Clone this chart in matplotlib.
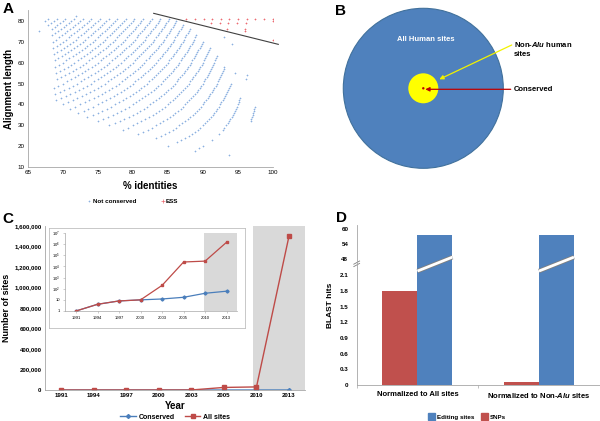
import numpy as np
import matplotlib
matplotlib.use('Agg')
import matplotlib.pyplot as plt
from matplotlib.patches import Circle, Patch
from matplotlib.ticker import FuncFormatter, NullLocator

plt.rcParams['font.family'] = ['Liberation Sans', 'DejaVu Sans']
plt.rcParams['mathtext.fontset'] = 'custom'
plt.rcParams['mathtext.rm'] = 'Liberation Sans'
plt.rcParams['mathtext.it'] = 'Liberation Sans:italic:bold'

# ---- panel A: BLAST hits, one arc per mismatch count ----
arc_mismatch = list(range(1, 27))
arc_len_lo = [32, 28, 22, 24, 26, 28, 30, 32, 34, 36, 38, 40, 42,
              45, 48, 52, 55, 58, 61, 64, 67, 70, 73, 76, 78, 80]
arc_len_hi = [39, 43, 50, 58, 63, 67, 70, 73, 76, 78, 80] + [81] * 15
stray_mismatch = [1, 2, 2, 2, 2, 2, 3, 3, 2, 2, 4, 5, 25, 23]
stray_len = [16, 18, 19, 20, 23, 26, 20, 55, 52, 54, 69, 72, 75, 82]
ess_mismatch = [0, 1, 2, 3, 4, 5, 6, 7, 8, 9, 10, 3, 4, 5, 6, 7, 0, 5, 3, 3, 0]
ess_len = [81] * 11 + [79] * 5 + [80, 76, 76, 75, 71]
cutoff_x = [83.0, 100.8]
cutoff_y = [83.5, 68.7]

# ---- panel B ----
b_labels = ['All Human sites', 'Non-$\\it{Alu}$ human\nsites', 'Conserved']
b_radius = [80, 15, 1.2]

# ---- panel C ----
years = ['1991', '1994', '1997', '2000', '2003', '2005', '2010', '2013']
all_sites = [1, 4, 8, 10, 200, 25000, 30000, 1500000]
conserved = [1, 4, 8, 10, 12, 17, 39, 60]

# ---- panel D ----
groups = ['Normalized to All sites', 'Normalized to Non-$\\it{Alu}$ sites']
snps = [1.8, 0.05]
editing = [57.6, 57.6]

W, H = 600, 421
BLUE = '#4f81bd'
RED = '#c0504d'
GREY = '#a6a6a6'


def px_box(left, top, right, bottom):
    return [left / W, 1 - bottom / H, (right - left) / W, (bottom - top) / H]


fig = plt.figure(figsize=(6, 4.21), dpi=100)

# A
ax_a = fig.add_axes(px_box(27.7, 10.2, 272.7, 167.3))
bx, by = [], []
for m, lo, hi in zip(arc_mismatch, arc_len_lo, arc_len_hi):
    for L in range(lo, hi + 1):
        bx.append(100.0 * (L - m) / L)
        by.append(L)
for m, L in zip(stray_mismatch, stray_len):
    bx.append(100.0 * (L - m) / L)
    by.append(L)
ex = [100.0 * (L - m) / L for m, L in zip(ess_mismatch, ess_len)]
ax_a.plot(bx, by, '+', ms=1.6, mew=0.45, color='#8cb0e0', label='Not conserved')
ax_a.plot(ex, ess_len, '+', ms=1.8, mew=0.5, color='#ec6a72', label='ESS')
ax_a.plot(cutoff_x, cutoff_y, color='#404040', lw=0.8, clip_on=False)
ax_a.set_xlim(65, 100)
ax_a.set_ylim(10, 85)
ax_a.set_xticks(range(65, 101, 5))
ax_a.set_yticks(range(10, 81, 10))
ax_a.tick_params(labelsize=4.5, length=0, pad=2)
for s in ['top', 'right']:
    ax_a.spines[s].set_visible(False)
for s in ['left', 'bottom']:
    ax_a.spines[s].set_color(GREY)
    ax_a.spines[s].set_linewidth(0.6)
ax_a.set_xlabel('% identities', fontsize=7, weight='bold', labelpad=4)
ax_a.set_ylabel('Alignment length', fontsize=7, weight='bold', labelpad=3)
ax_a.legend(loc='center', bbox_to_anchor=(0.43, -0.215), ncol=2, frameon=False,
            prop={'weight': 'bold', 'size': 4.5}, handlelength=0.6,
            handletextpad=0.2, columnspacing=4, markerscale=1.3)

# B
ax_b = fig.add_axes(px_box(300, 0, 600, 210))
ax_b.set_xlim(300, 600)
ax_b.set_ylim(210, 0)
ax_b.axis('off')
cx, cy = 423.3, 88.3
ax_b.add_patch(Circle((cx, cy), b_radius[0], fc=BLUE, ec='#41719c', lw=0.8))
ax_b.add_patch(Circle((cx, cy), b_radius[1], fc='#ffff00', ec='none'))
ax_b.add_patch(Circle((cx, cy), b_radius[2], fc='#c00000', ec='none'))
ax_b.text(425.7, 39.3, b_labels[0], color='white', fontsize=5.5, weight='bold',
          ha='center', va='center')
ax_b.text(514, 49, b_labels[1], fontsize=5.5, weight='bold', ha='left', va='center',
          linespacing=1.5)
ax_b.text(514, 89.3, b_labels[2], fontsize=5.5, weight='bold', ha='left', va='center')
ax_b.annotate('', xy=(cx + 16, cy - 9), xytext=(511.7, 45),
              arrowprops=dict(arrowstyle='-|>', color='#f2f200', lw=0.9,
                              mutation_scale=6, shrinkA=0, shrinkB=0))
ax_b.annotate('', xy=(cx + 2, cy + 1), xytext=(510.7, cy + 1),
              arrowprops=dict(arrowstyle='-|>', color='#c00000', lw=0.9,
                              mutation_scale=6, shrinkA=0, shrinkB=0))

# C
x = np.arange(len(years))
ax_c = fig.add_axes(px_box(45, 225.7, 305.3, 390))
ax_c.axvspan(5.9, 7.5, color='#d9d9d9', lw=0)
ax_c.plot(x, conserved, color='#4a7ebb', marker='D', ms=2, lw=1, label='Conserved')
ax_c.plot(x, all_sites, color='#be4b48', marker='s', ms=2.2, lw=1, label='All sites')
ax_c.set_xlim(-0.5, 7.5)
ax_c.set_ylim(0, 1.6e6)
ax_c.set_xticks(x)
ax_c.set_xticklabels(years, weight='bold')
ax_c.set_yticks(np.arange(0, 1.6e6 + 1, 2e5))
ax_c.yaxis.set_major_formatter(FuncFormatter(lambda v, p: '{:,.0f}'.format(v)))
for lab in ax_c.get_yticklabels():
    lab.set_fontweight('bold')
ax_c.tick_params(labelsize=4.4, length=0, pad=2.5)
for s in ['top', 'right']:
    ax_c.spines[s].set_visible(False)
for s in ['left', 'bottom']:
    ax_c.spines[s].set_color(GREY)
    ax_c.spines[s].set_linewidth(0.6)
ax_c.set_xlabel('Year', fontsize=7, weight='bold', labelpad=2)
ax_c.set_ylabel('Number of sites', fontsize=6.5, weight='bold', labelpad=2)
ax_c.legend(loc='center', bbox_to_anchor=(0.5, -0.165), ncol=2, frameon=False,
            prop={'weight': 'bold', 'size': 5}, handlelength=2.2, columnspacing=1.5,
            handletextpad=0.4)

ax_fr = fig.add_axes(px_box(49.3, 228.3, 245, 328.3))
ax_fr.set_xticks([])
ax_fr.set_yticks([])
for s in ax_fr.spines.values():
    s.set_color('#bfbfbf')
    s.set_linewidth(0.6)

ax_in = fig.add_axes(px_box(65.25, 233, 237.4, 311))
ax_in.patch.set_visible(False)
ax_in.axvspan(5.97, 7.5, color='#d9d9d9', lw=0)
ax_in.plot(x, conserved, color='#4a7ebb', marker='D', ms=1.6, lw=0.9)
ax_in.plot(x, all_sites, color='#be4b48', marker='s', ms=1.6, lw=0.9)
ax_in.set_yscale('log')
ax_in.set_xlim(-0.5, 7.5)
ax_in.set_ylim(1, 1e7)
ax_in.set_xticks(x)
ax_in.set_xticklabels(years)
ax_in.set_yticks([10 ** k for k in range(8)])
ax_in.set_yticklabels(['1', '10'] + ['10$^{%d}$' % k for k in range(2, 8)])
ax_in.yaxis.set_minor_locator(NullLocator())
ax_in.tick_params(labelsize=3, length=1.5, width=0.4, pad=2, color=GREY)
for s in ['top', 'right']:
    ax_in.spines[s].set_visible(False)
for s in ['left', 'bottom']:
    ax_in.spines[s].set_color(GREY)
    ax_in.spines[s].set_linewidth(0.5)


# D: broken axis done as a piecewise scale
def d_fwd(v):
    v = np.asarray(v, dtype=float)
    return np.where(v <= 2.3, 52.2 * v,
                    np.where(v < 48, 120.06 + (v - 2.3) * (5.64 / 45.7),
                             125.7 + 2.525 * (v - 48)))


def d_inv(p):
    p = np.asarray(p, dtype=float)
    return np.where(p <= 120.06, p / 52.2,
                    np.where(p < 125.7, 2.3 + (p - 120.06) * (45.7 / 5.64),
                             48 + (p - 125.7) / 2.525))


gx = np.arange(len(groups))
bw = 0.288
ax_d = fig.add_axes(px_box(356.7, 225, 599.7, 385))
ax_d.set_yscale('function', functions=(d_fwd, d_inv))
ax_d.bar(gx - bw / 2, snps, bw, color=RED, label='SNPs')
ax_d.bar(gx + bw / 2, editing, bw, color=BLUE, label='Editing sites')
for g in gx:
    ax_d.plot([g, g + bw], [2.18, 48.8], color='#7f7f7f', lw=3.2, solid_capstyle='butt')
    ax_d.plot([g, g + bw], [2.18, 48.8], color='white', lw=2.0, solid_capstyle='butt')
ax_d.set_xlim(-0.5, 1.5)
ax_d.set_ylim(0, 61.5)
d_ticks = [0, 0.3, 0.6, 0.9, 1.2, 1.5, 1.8, 2.1, 48, 54, 60]
ax_d.set_yticks(d_ticks)
ax_d.set_yticklabels(['0', '0.3', '0.6', '0.9', '1.2', '1.5', '1.8', '2.1', '48', '54', '60'],
                     weight='bold')
ax_d.yaxis.set_minor_locator(NullLocator())
ax_d.set_xticks(gx)
ax_d.set_xticklabels(groups, weight='bold', fontsize=5.5)
ax_d.set_xticks([-0.5, 0.5, 1.5], minor=True)
ax_d.tick_params(axis='x', which='major', length=0, pad=4)
ax_d.tick_params(axis='x', which='minor', length=2.5, color=GREY, width=0.5)
ax_d.tick_params(axis='y', labelsize=4.5, length=0, pad=6)
for s in ['top', 'right']:
    ax_d.spines[s].set_visible(False)
for s in ['left', 'bottom']:
    ax_d.spines[s].set_color(GREY)
    ax_d.spines[s].set_linewidth(0.6)
ax_d.plot([-0.012, 0.012], [0.755, 0.775], transform=ax_d.transAxes, color='#7f7f7f',
          lw=0.6, clip_on=False)
ax_d.plot([-0.012, 0.012], [0.74, 0.76], transform=ax_d.transAxes, color='#7f7f7f',
          lw=0.6, clip_on=False)
ax_d.set_ylabel('BLAST hits', fontsize=6, weight='bold', labelpad=4)
d_handles = [Patch(color=BLUE, label='Editing sites'), Patch(color=RED, label='SNPs')]
ax_d.legend(handles=d_handles, loc='center', bbox_to_anchor=(0.454, -0.198), ncol=2,
            frameon=False, prop={'weight': 'bold', 'size': 4.5}, handlelength=1.0,
            handleheight=1.2, handletextpad=0.3, columnspacing=1.2)

# panel letters
for letter, (lx, ly) in zip('ABCD', [(3, 2), (335, 4), (2, 212), (336, 211)]):
    fig.text(lx / W, 1 - ly / H, letter, fontsize=11, weight='bold', ha='left', va='top')

fig.savefig('out.png', dpi=100)
